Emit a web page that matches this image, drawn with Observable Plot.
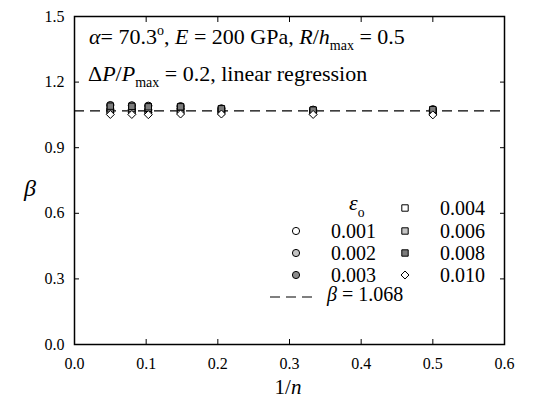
<!DOCTYPE html>
<html><head><meta charset="utf-8">
<script src="https://cdn.jsdelivr.net/npm/d3@7"></script>
<script src="https://cdn.jsdelivr.net/npm/@observablehq/plot@0.6"></script>
</head><body style="margin:0;background:#fff">
<div id="wrap" style="position:relative;width:534px;height:403px">
<svg id="over" width="534" height="403" style="position:absolute;left:0;top:0;z-index:2;pointer-events:none" font-family="Liberation Serif">
<text x="89" y="44" font-size="22" font-family="Liberation Serif"><tspan font-style="italic">α</tspan><tspan>= 70.3</tspan><tspan font-size="14" dy="-9">o</tspan><tspan dy="9">,  </tspan><tspan font-style="italic">E</tspan><tspan> = 200 GPa,  </tspan><tspan font-style="italic">R</tspan><tspan>/</tspan><tspan font-style="italic">h</tspan><tspan font-size="14" dy="6">max</tspan><tspan dy="-6"> = 0.5</tspan></text>
<text x="88" y="81" font-size="22" font-family="Liberation Serif"><tspan>Δ</tspan><tspan font-style="italic">P</tspan><tspan>/</tspan><tspan font-style="italic">P</tspan><tspan font-size="14" dy="6">max</tspan><tspan dy="-6"> = 0.2, linear regression</tspan></text>
<text x="30" y="196" font-size="24" text-anchor="middle" font-family="Liberation Serif" font-style="italic">β</text>
<text x="288" y="394" font-size="21" text-anchor="middle" font-family="Liberation Serif"><tspan>1/</tspan><tspan font-style="italic">n</tspan></text>
</svg>
</div>
<script>
// 1/n values (x)
const invN = [0.05, 0.08, 0.103, 0.148, 0.205, 0.333, 0.5];
// strain levels
const strains = ["0.001", "0.002", "0.003", "0.004", "0.006", "0.008", "0.010"];
// beta values per strain
const beta001 = [1.062, 1.062, 1.061, 1.063, 1.062, 1.060, 1.058];
const beta002 = [1.075, 1.074, 1.073, 1.078, 1.070, 1.067, 1.066];
const beta003 = [1.095, 1.094, 1.092, 1.090, 1.080, 1.074, 1.076];
const beta004 = [1.066, 1.066, 1.065, 1.067, 1.065, 1.063, 1.062];
const beta006 = [1.082, 1.081, 1.080, 1.084, 1.074, 1.070, 1.070];
const beta008 = [1.090, 1.089, 1.087, 1.087, 1.078, 1.072, 1.074];
const beta010 = [1.052, 1.052, 1.051, 1.054, 1.054, 1.052, 1.050];
const betaSeries = [beta001, beta002, beta003, beta004, beta006, beta008, beta010];
const betaFit = 1.068;
const xTicks = [0, 0.1, 0.2, 0.3, 0.4, 0.5, 0.6];
const yTicks = [0, 0.3, 0.6, 0.9, 1.2, 1.5];

const FONT = "Liberation Serif";
const symbols = ["circle", "circle", "circle", "square", "square", "square", "diamond2"];
const fills = ["white", "#c4c4c4", "#8c8c8c", "white", "#c4c4c4", "#7c7c7c", "white"];

const dotMarks = betaSeries.map((vals, i) =>
  Plot.dot(invN.map((x, j) => ({x, y: vals[j]})), {
    x: "x", y: "y", symbol: () => symbols[i], r: 3.6,
    fill: fills[i], stroke: "black", strokeWidth: 1
  })
);

const plot = Plot.plot({
  width: 534, height: 403,
  marginLeft: 74, marginRight: 30, marginTop: 16, marginBottom: 59,
  style: {fontFamily: FONT, fontSize: "16px"},
  x: {domain: [0, 0.6]},
  y: {domain: [0, 1.5]},
  symbol: {type: "identity"},
  marks: [
    Plot.ruleY([betaFit], {stroke: "black", strokeWidth: 1.2, strokeDasharray: "10,6"}),
    ...dotMarks,
    Plot.axisX({ticks: xTicks, tickSize: -5, tickPadding: 18, tickFormat: d => d.toFixed(1), label: null}),
    Plot.axisX({anchor: "top", ticks: xTicks, tickSize: -5, tickFormat: () => "", label: null}),
    Plot.axisY({ticks: yTicks, tickSize: -5, tickPadding: 15, tickFormat: d => d.toFixed(1), label: null}),
    Plot.axisY({anchor: "right", ticks: yTicks, tickSize: -5, tickFormat: () => "", label: null}),
    Plot.frame({stroke: "black", strokeWidth: 1.5})
  ]
});
const wrap = document.getElementById("wrap");
wrap.appendChild(plot);

// legend drawn into the overlay
const svg = d3.select("#over");
function label(x, y, size, parts) {
  const t = svg.append("text").attr("x", x).attr("y", y).attr("font-size", size).attr("font-family", FONT);
  parts.forEach(p => {
    const s = t.append("tspan").text(p.t);
    if (p.i) s.attr("font-style", "italic");
    if (p.sub) s.attr("font-size", size * 0.62).attr("dy", size * 0.3);
  });
}
const legRows = [208, 231, 253, 275];
label(349, 210, 22, [{t: "ε", i: true}, {t: "o", sub: true}]);
const leftItems = [1, 2, 3].map(k => ({i: k - 1, row: legRows[k]}));
const rightItems = [0, 1, 2, 3].map(k => ({i: k + 3, row: legRows[k]}));
const symGen = {circle: d3.symbolCircle, square: d3.symbolSquare, diamond2: d3.symbolDiamond2};
function legendSym(cx, cy, i) {
  svg.append("path").attr("d", d3.symbol(symGen[symbols[i]], Math.PI * 3.6 * 3.6)())
    .attr("transform", `translate(${cx},${cy})`)
    .attr("fill", fills[i]).attr("stroke", "black").attr("stroke-width", 1);
}
leftItems.forEach(d => {
  legendSym(296, d.row, d.i);
  label(331, d.row + 7, 20, [{t: strains[d.i]}]);
});
rightItems.forEach(d => {
  legendSym(405, d.row, d.i);
  label(440, d.row + 7, 20, [{t: strains[d.i]}]);
});
svg.append("line").attr("x1", 270).attr("x2", 316).attr("y1", 297).attr("y2", 297)
  .attr("stroke", "black").attr("stroke-width", 1.2).attr("stroke-dasharray", "10,6");
label(327, 301, 20, [{t: "β", i: true}, {t: " = " + betaFit.toFixed(3)}]);
</script></body></html>
